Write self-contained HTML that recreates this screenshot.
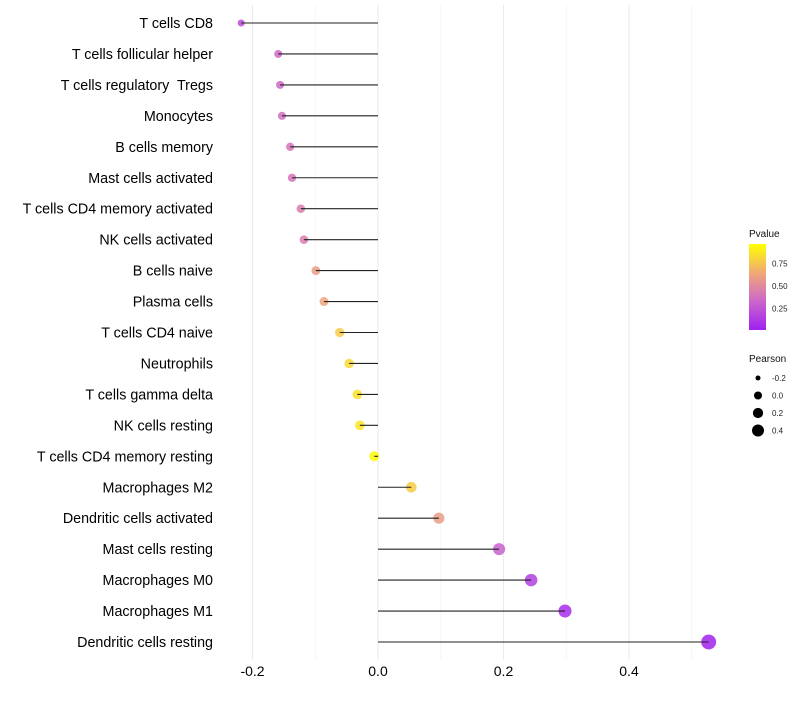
<!DOCTYPE html>
<html><head><meta charset="utf-8"><style>
body{margin:0;background:#fff;font-family:"Liberation Sans",sans-serif}
svg text{font-family:"Liberation Sans",sans-serif;white-space:pre}
</style></head><body>
<svg id="c" width="800" height="700">
<defs><linearGradient id="pg" x1="0" y1="1" x2="0" y2="0">
<stop offset="0" stop-color="#a020f0"/><stop offset="0.33" stop-color="#cc66cc"/><stop offset="0.66" stop-color="#f0a878"/><stop offset="1" stop-color="#ffff00"/></linearGradient></defs>
<g id="grid"></g><g id="dots"></g><g id="marks"></g><g id="labels"></g><g id="legend"></g>
</svg>
<script>
const categories=["T cells CD8","T cells follicular helper","T cells regulatory  Tregs","Monocytes","B cells memory","Mast cells activated","T cells CD4 memory activated","NK cells activated","B cells naive","Plasma cells","T cells CD4 naive","Neutrophils","T cells gamma delta","NK cells resting","T cells CD4 memory resting","Macrophages M2","Dendritic cells activated","Mast cells resting","Macrophages M0","Macrophages M1","Dendritic cells resting"];
const pearson=[-0.218,-0.159,-0.156,-0.153,-0.140,-0.137,-0.123,-0.118,-0.099,-0.086,-0.061,-0.046,-0.033,-0.029,-0.006,0.053,0.097,0.193,0.244,0.298,0.527];
const pvalue=[0.2,0.35,0.35,0.37,0.4,0.4,0.45,0.45,0.6,0.65,0.8,0.85,0.88,0.9,0.98,0.8,0.6,0.3,0.15,0.05,0.01];
const xTicks=[-0.2,0,0.2,0.4];
const xTickLabels=["-0.2","0.0","0.2","0.4"];
const xMinor=[-0.1,0.1,0.3,0.5];
const pTicks=[0.25,0.5,0.75];
const sizeTicks=[-0.2,0,0.2,0.4];
const NS="http://www.w3.org/2000/svg";
const X=v=>378+v*627.5;
const Y=i=>23+i*30.95;
const R=v=>Math.sqrt(Math.max(25.3+58*v,3));
const RL=v=>Math.sqrt(Math.max(16.2+49.6*v,2));
function col(p){const s=[[0,[160,32,240]],[0.33,[204,102,204]],[0.66,[240,168,120]],[1,[255,255,0]]];
for(let k=1;k<s.length;k++){if(p<=s[k][0]){const t=(p-s[k-1][0])/(s[k][0]-s[k-1][0]);const a=s[k-1][1],b=s[k][1];return`rgb(${a.map((x,j)=>Math.round(x+(b[j]-x)*t)).join(",")})`;}}return"rgb(255,255,0)";}
function mk(t,a,p,txt){const e=document.createElementNS(NS,t);for(const k in a)e.setAttribute(k,a[k]);if(txt!=null)e.textContent=txt;p.appendChild(e);return e;}
const grid=document.getElementById('grid'),dots=document.getElementById('dots'),marks=document.getElementById('marks'),labels=document.getElementById('labels'),lg=document.getElementById('legend');
xMinor.forEach(v=>{const l=mk('line',{x1:X(v),x2:X(v),y1:5,y2:660,stroke:'#f3f3f3','stroke-width':0.6},grid);

});
xTicks.forEach((v,i)=>{const l=mk('line',{x1:X(v),x2:X(v),y1:5,y2:660,stroke:'#ebebeb','stroke-width':1.1},grid);


const t=mk('text',{x:X(v),y:676,'text-anchor':'middle','font-size':14,fill:'#000'},labels,xTickLabels[i]);

});
categories.forEach((c,i)=>{const y=Y(i);
const t=mk('text',{x:213,y:y+5,'text-anchor':'end','font-size':14.3,fill:'#000'},labels,c);


const d=mk('circle',{cx:X(pearson[i]),cy:y,r:R(pearson[i]),fill:col(pvalue[i]),'fill-opacity':0.85},dots);


const l=mk('line',{x1:X(0),x2:X(pearson[i]),y1:y,y2:y,stroke:'#222','stroke-width':1.1},marks);

});
let e=mk('text',{x:749,y:237,'font-size':10,fill:'#111'},lg,'Pvalue');


e=mk('rect',{x:749,y:244,width:17,height:86,fill:'url(#pg)'},lg);


pTicks.forEach(p=>{const y=330-(p-0.01)/0.96*86;
const t=mk('text',{x:772,y:y+3,'font-size':8,fill:'#222'},lg,p.toFixed(2));

});
e=mk('text',{x:749,y:362,'font-size':10,fill:'#111'},lg,'Pearson');


sizeTicks.forEach((v,i)=>{const y=378+i*17.5;
const c=mk('circle',{cx:758,cy:y,r:RL(v),fill:'#000'},lg);


const t=mk('text',{x:772,y:y+3,'font-size':8,fill:'#222'},lg,v.toFixed(1));

});
</script>
</body></html>
